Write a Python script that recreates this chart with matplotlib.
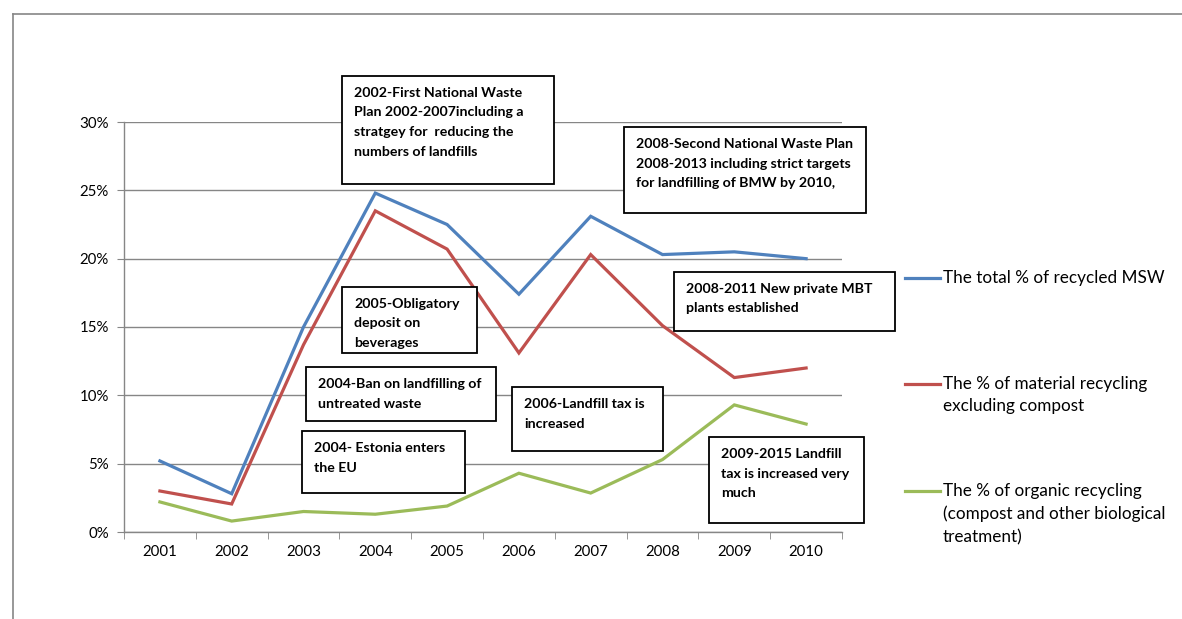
import matplotlib
matplotlib.use("Agg")
import matplotlib.pyplot as plt
from matplotlib.patches import Rectangle
from matplotlib.lines import Line2D
from matplotlib.ticker import FuncFormatter

plt.rcParams['font.family'] = ['Lato', 'DejaVu Sans']

years = ['2001', '2002', '2003', '2004', '2005', '2006', '2007', '2008', '2009', '2010']
total_recycled = [5.2, 2.8, 15.0, 24.8, 22.5, 17.4, 23.1, 20.3, 20.5, 20.0]
material_recycling = [3.0, 2.05, 13.7, 23.5, 20.7, 13.1, 20.3, 15.1, 11.3, 12.0]
organic_recycling = [2.2, 0.8, 1.5, 1.3, 1.9, 4.3, 2.85, 5.3, 9.3, 7.9]

series_labels = [
    'The total % of recycled MSW',
    'The % of material recycling\nexcluding compost',
    'The % of organic recycling\n(compost and other biological\ntreatment)',
]
series_colors = ['#4F81BD', '#C0504D', '#9BBB59']

events = [
    ('2002-First National Waste\nPlan 2002-2007including a\nstratgey for  reducing the\nnumbers of landfills', (342, 76, 554, 184)),
    ('2008-Second National Waste Plan\n2008-2013 including strict targets\nfor landfilling of BMW by 2010,', (624, 127, 866, 213)),
    ('2008-2011 New private MBT\nplants established', (674, 272, 895, 331)),
    ('2005-Obligatory\ndeposit on\nbeverages', (342, 287, 477, 353)),
    ('2004-Ban on landfilling of\nuntreated waste', (306, 367, 496, 421)),
    ('2004- Estonia enters\nthe EU', (302, 431, 465, 493)),
    ('2006-Landfill tax is\nincreased', (512, 387, 663, 451)),
    ('2009-2015 Landfill\ntax is increased very\nmuch', (709, 437, 864, 523)),
]

W, H = 1182, 619
fig = plt.figure(figsize=(W / 100, H / 100), dpi=100)


def fx(x):
    return x / W


def fy(y):
    return 1 - y / H


ax = fig.add_axes([fx(124), fy(532), fx(842) - fx(124), fy(122) - fy(532)])
x = list(range(len(years)))
series = [total_recycled, material_recycling, organic_recycling]
for vals, col in zip(series, series_colors):
    ax.plot(x, vals, color=col, lw=2.3, solid_joinstyle='miter', zorder=3)

ax.set_xlim(-0.5, len(years) - 0.5)
ax.set_ylim(0, 30)
ax.set_yticks(range(0, 31, 5))
ax.yaxis.set_major_formatter(FuncFormatter(lambda v, p: f'{int(v)}%'))
ax.set_xticks(x)
ax.set_xticklabels(years)
ax.set_xticks([i - 0.5 for i in range(len(years) + 1)], minor=True)
ax.tick_params(axis='x', which='major', length=0, pad=9, labelsize=10.8, colors='black')
ax.tick_params(axis='x', which='minor', length=5, color='#868686', direction='out')
ax.tick_params(axis='y', length=5, color='#868686', pad=6, labelsize=10.8, labelcolor='black')
ax.grid(axis='y', color='#868686', lw=1)
ax.set_axisbelow(True)
for s in ['top', 'right']:
    ax.spines[s].set_visible(False)
for s in ['left', 'bottom']:
    ax.spines[s].set_color('#868686')
    ax.spines[s].set_linewidth(1)

# outer frame
fig.add_artist(Line2D([fx(13), fx(13)], [fy(14), 0], color='#868686', lw=1.2))
fig.add_artist(Line2D([fx(13), 1], [fy(14), fy(14)], color='#868686', lw=1.2))

# event annotations
for text, (x0, y0, x1, y1) in events:
    fig.add_artist(Rectangle((fx(x0), fy(y1)), fx(x1) - fx(x0), fy(y0) - fy(y1),
                             facecolor='white', edgecolor='black', lw=1.3, zorder=5))
    fig.text(fx(x0 + 12), fy(y0 + 11), text, ha='left', va='top', fontsize=10.2,
             fontweight='bold', linespacing=1.75, zorder=6)

# legend
legend_y = [278, 384, 491]
for lab, col, ly in zip(series_labels, series_colors, legend_y):
    fig.add_artist(Line2D([fx(905), fx(940)], [fy(ly), fy(ly)], color=col, lw=2.3))
    fig.text(fx(943), fy(ly - 8), lab, ha='left', va='top', fontsize=12.3, linespacing=1.5)

fig.savefig('out.png', dpi=100, facecolor='white')
